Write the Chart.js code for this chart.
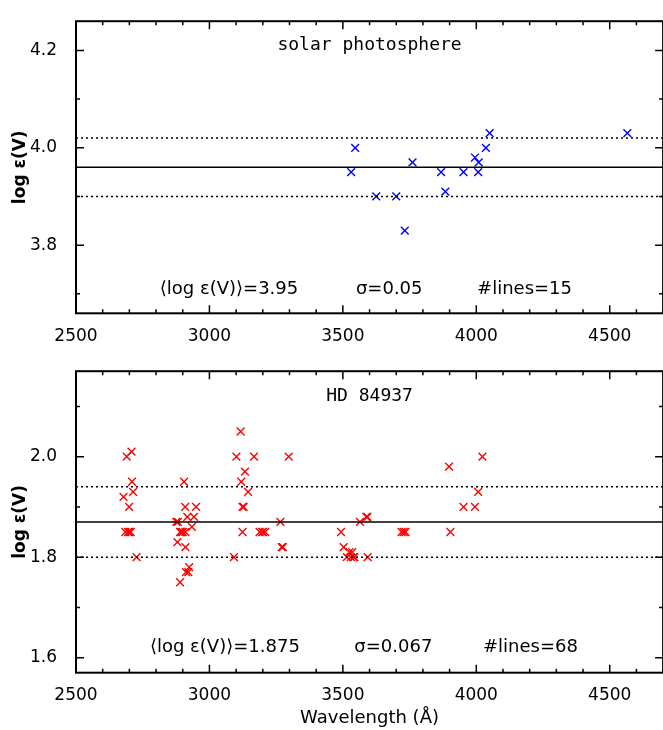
<!DOCTYPE html>
<html>
<head>
<meta charset="utf-8">
<title>V abundances</title>
<script src="https://cdn.jsdelivr.net/npm/chart.js@4.4.1/dist/chart.umd.min.js"></script>
<style>
  html, body { margin: 0; padding: 0; background: #fff; overflow: hidden; }
  #wrap { position: relative; width: 663px; height: 730px; overflow: hidden; }
  canvas { position: absolute; left: 0; }
</style>
</head>
<body>
<div id="wrap">
  <canvas id="sun" width="670" height="350" style="top:0px"></canvas>
  <canvas id="hd" width="670" height="380" style="top:350px"></canvas>
</div>
<script>
// solar photosphere
const sunWave = [3531, 3546, 3625, 3700, 3732, 3761, 3868, 3884, 3952, 3995, 4007, 4009, 4036, 4050, 4566]
const sunAbund = [3.95, 4.00, 3.90, 3.90, 3.83, 3.97, 3.95, 3.91, 3.95, 3.98, 3.95, 3.97, 4.00, 4.03, 4.03]
const sunLines = [3.90, 3.96, 4.02] // lower, mean, upper
const sunRange = [3.66, 4.26]
const sunYTicks = [3.8, 4.0, 4.2]

// HD 84937
const hdWave = [2678, 2690, 2699, 2685, 2695, 2700, 2705, 2708, 2710, 2714, 2727,
  2876, 2880, 2882, 2890, 2890, 2895, 2900, 2905, 2909, 2910, 2910, 2912, 2917, 2921, 2924, 2934, 2942, 2950,
  3092, 3101, 3117, 3119, 3124, 3124, 3128, 3133, 3145, 3167, 3188, 3198, 3200, 3209, 3266, 3271, 3275, 3297,
  3493, 3503, 3515, 3525, 3530, 3535, 3540, 3543, 3564, 3588, 3592, 3593, 3720, 3728, 3735,
  3898, 3903, 3952, 3995, 4007, 4023]
const hdAbund = [1.92, 2.00, 1.90, 1.85, 1.85, 1.85, 1.85, 2.01, 1.95, 1.93, 1.80,
  1.87, 1.83, 1.87, 1.85, 1.75, 1.85, 1.85, 1.95, 1.90, 1.85, 1.82, 1.77, 1.88, 1.77, 1.78, 1.86, 1.88, 1.90,
  1.80, 2.00, 2.05, 1.95, 1.90, 1.85, 1.90, 1.97, 1.93, 2.00, 1.85, 1.85, 1.85, 1.85, 1.87, 1.82, 1.82, 2.00,
  1.85, 1.82, 1.80, 1.81, 1.80, 1.81, 1.80, 1.80, 1.87, 1.88, 1.88, 1.80, 1.85, 1.85, 1.85,
  1.98, 1.85, 1.90, 1.90, 1.93, 2.00]
const hdLines = [1.80, 1.87, 1.94]
const hdRange = [1.57, 2.17]
const hdYTicks = [1.6, 1.8, 2.0]

const xRange = [2500, 4700]
const xTicks = [2500, 3000, 3500, 4000, 4500]

const sunText = [
  { t: 'solar photosphere', x: 3600, y: 4.21, align: 'center', font: '18px "DejaVu Sans Mono"' },
  { t: '\u27e8log \u03b5(V)\u27e9=3.95', x: 2814, y: 3.71, align: 'left' },
  { t: '\u03c3=0.05', x: 3549, y: 3.71, align: 'left' },
  { t: '#lines=15', x: 4003, y: 3.71, align: 'left' }
]
const hdText = [
  { t: 'HD 84937', x: 3600, y: 2.12, align: 'center', font: '18px "DejaVu Sans Mono"' },
  { t: '\u27e8log \u03b5(V)\u27e9=1.875', x: 2777, y: 1.62, align: 'left' },
  { t: '\u03c3=0.067', x: 3543, y: 1.62, align: 'left' },
  { t: '#lines=68', x: 4025, y: 1.62, align: 'left' }
]

// box round the plot with inward ticks on all four sides
const framePlugin = {
  id: 'frame',
  afterDatasetsDraw(chart) {
    const { ctx, chartArea: a, scales: { x, y } } = chart
    ctx.save()
    ctx.strokeStyle = '#000'
    ctx.lineWidth = 2
    ctx.strokeRect(a.left, a.top, a.right - a.left, a.bottom - a.top)
    ctx.lineWidth = 1.5
    ctx.beginPath()
    for (let v = xRange[0]; v <= xRange[1]; v += 100) {
      const px = x.getPixelForValue(v)
      const len = v % 500 === 0 ? 8 : 4
      ctx.moveTo(px, a.bottom); ctx.lineTo(px, a.bottom - len)
      ctx.moveTo(px, a.top); ctx.lineTo(px, a.top + len)
    }
    for (let k = Math.ceil(y.min * 10); k <= Math.floor(y.max * 10); k++) {
      const py = y.getPixelForValue(k / 10)
      const len = k % 2 === 0 ? 8 : 4
      ctx.moveTo(a.left, py); ctx.lineTo(a.left + len, py)
      ctx.moveTo(a.right, py); ctx.lineTo(a.right - len, py)
    }
    ctx.stroke()
    ctx.restore()
  },
  afterDraw(chart) {
    const { ctx, scales: { x, y } } = chart
    const notes = chart.options.plugins.frame.notes
    ctx.save()
    ctx.fillStyle = '#000'
    ctx.textBaseline = 'middle'
    notes.forEach((n) => {
      ctx.font = n.font || '18px "DejaVu Sans"'
      ctx.textAlign = n.align
      ctx.fillText(n.t, x.getPixelForValue(n.x), y.getPixelForValue(n.y))
    })
    ctx.restore()
  }
}

const makeChart = (id, wave, abund, lines, range, yTicks, color, notes, isBottom) => {
  const pts = wave.map((w, i) => ({ x: w, y: abund[i] }))
  const hline = (v) => [{ x: xRange[0], y: v }, { x: xRange[1], y: v }]
  const lineSet = (v, dash) => ({
    type: 'line', data: hline(v), borderColor: '#000', borderWidth: 1.5,
    borderDash: dash, pointRadius: 0, showLine: true, fill: false
  })

  return new Chart(document.getElementById(id), {
    type: 'scatter',
    data: {
      datasets: [
        lineSet(lines[0], [2, 3]),
        lineSet(lines[1], []),
        lineSet(lines[2], [2, 3]),
        {
          data: pts, pointStyle: 'crossRot', pointRadius: 5.5, pointHoverRadius: 5.5,
          borderColor: color, backgroundColor: color, borderWidth: 1.4
        }
      ]
    },
    options: {
      responsive: false,
      animation: false,
      layout: { padding: { top: isBottom ? 18.1 : 8.7, right: 6, left: 0, bottom: 0 } },
      plugins: { legend: { display: false }, tooltip: { enabled: false }, frame: { notes } },
      scales: {
        x: {
          type: 'linear', min: xRange[0], max: xRange[1],
          grid: { display: false }, border: { display: false },
          afterBuildTicks: (s) => { s.ticks = xTicks.map((v) => ({ value: v })) },
          afterFit: (s) => { s.height = isBottom ? 57.3 : 36.7 },
          ticks: {
            color: '#000', padding: 5, maxRotation: 0, font: { family: 'DejaVu Sans', size: 17 },
            callback: (v) => String(v)
          },
          title: {
            display: isBottom, text: 'Wavelength (\u00c5)', color: '#000',
            font: { family: 'DejaVu Sans', size: 18 }, padding: { top: 0, bottom: 1 }
          }
        },
        y: {
          type: 'linear', min: range[0], max: range[1],
          grid: { display: false }, border: { display: false },
          afterBuildTicks: (s) => { s.ticks = yTicks.map((v) => ({ value: v })) },
          afterFit: (s) => { s.width = 76 },
          ticks: {
            color: '#000', padding: 11, font: { family: 'DejaVu Sans', size: 17 },
            callback: (v) => Number(v).toFixed(1)
          },
          title: {
            display: true, text: 'log \u03b5(V)', color: '#000',
            font: { family: 'DejaVu Sans', size: 17, weight: 'bold' }, padding: { top: 10, bottom: 0 }
          }
        }
      }
    },
    plugins: [framePlugin]
  })
}

makeChart('sun', sunWave, sunAbund, sunLines, sunRange, sunYTicks, 'rgb(0,0,255)', sunText, false)
makeChart('hd', hdWave, hdAbund, hdLines, hdRange, hdYTicks, 'rgb(255,0,0)', hdText, true)
</script>
</body>
</html>
